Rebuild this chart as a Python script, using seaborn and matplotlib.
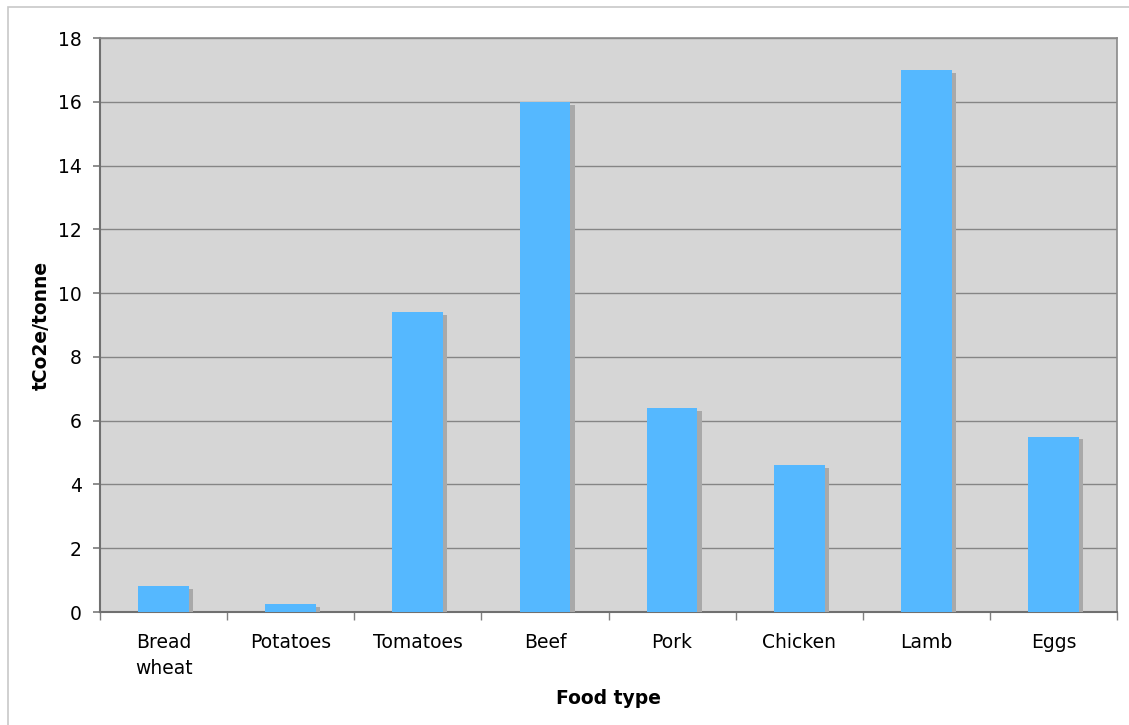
import matplotlib
matplotlib.use("Agg")
import matplotlib.pyplot as plt
import matplotlib.patheffects as pe
from matplotlib.patches import Rectangle
import seaborn as sns
import pandas as pd
import numpy as np

foods = ["Bread\nwheat", "Potatoes", "Tomatoes", "Beef", "Pork", "Chicken", "Lamb", "Eggs"]
emissions = [0.8, 0.25, 9.4, 16.0, 6.4, 4.6, 17.0, 5.5]
y_ticks = [0, 2, 4, 6, 8, 10, 12, 14, 16, 18]

df = pd.DataFrame({"food": foods, "tco2e": emissions})

sns.set_theme(style="white")
plt.rcParams["font.family"] = ["DejaVu Sans"]
plt.rcParams["text.color"] = "black"
plt.rcParams["axes.labelcolor"] = "black"
plt.rcParams["xtick.color"] = "black"
plt.rcParams["ytick.color"] = "black"

fig = plt.figure(figsize=(11.29, 7.25), dpi=100)
ax = fig.add_axes([100 / 1129, 1 - 612 / 725, 1017 / 1129, 574 / 725])
ax.set_facecolor("#d6d6d6")

# light frame around the chart
fig.patches.append(Rectangle((8 / 1129, -0.01), 1.02, 1 - 7 / 725 + 0.01,
                             transform=fig.transFigure, fill=False,
                             edgecolor="#c8c8c8", linewidth=1.2, zorder=0))

sns.barplot(data=df, x="food", y="tco2e", color="#55b8ff", saturation=1,
            width=0.4, ax=ax, zorder=3)
for bar in ax.patches:
    bar.set_edgecolor("none")
    bar.set_path_effects([pe.SimplePatchShadow(offset=(3, -2),
                                               shadow_rgbFace="#a9a9a9", alpha=1),
                          pe.Normal()])

ax.set_ylim(0, 18)
ax.set_xlim(-0.5, len(foods) - 0.5)
ax.set_yticks(y_ticks)
ax.yaxis.grid(True, color="#858585", linewidth=1.0, zorder=1)
ax.set_axisbelow(True)

ax.tick_params(axis="y", which="major", length=5, color="#808080",
               labelsize=13.5, pad=8, left=True, labelcolor="black")
ax.tick_params(axis="x", which="major", length=0, labelsize=13.5, pad=15,
               labelcolor="black")
for lbl in ax.get_xticklabels():
    lbl.set_linespacing(1.45)
ax.set_xticks(np.arange(len(foods) + 1) - 0.5, minor=True)
ax.tick_params(axis="x", which="minor", length=6, color="#808080", bottom=True)

for side in ["top", "right"]:
    ax.spines[side].set_color("#8a8a8a")
    ax.spines[side].set_linewidth(1.2)
for side in ["left", "bottom"]:
    ax.spines[side].set_color("#707070")
    ax.spines[side].set_linewidth(1.5)

ax.set_xlabel("Food type", fontsize=13.5, fontweight="bold", labelpad=8,
              color="black")
ax.set_ylabel("tCo2e/tonne", fontsize=13.5, fontweight="bold", labelpad=5,
              color="black")

fig.savefig("out.png", dpi=100)
